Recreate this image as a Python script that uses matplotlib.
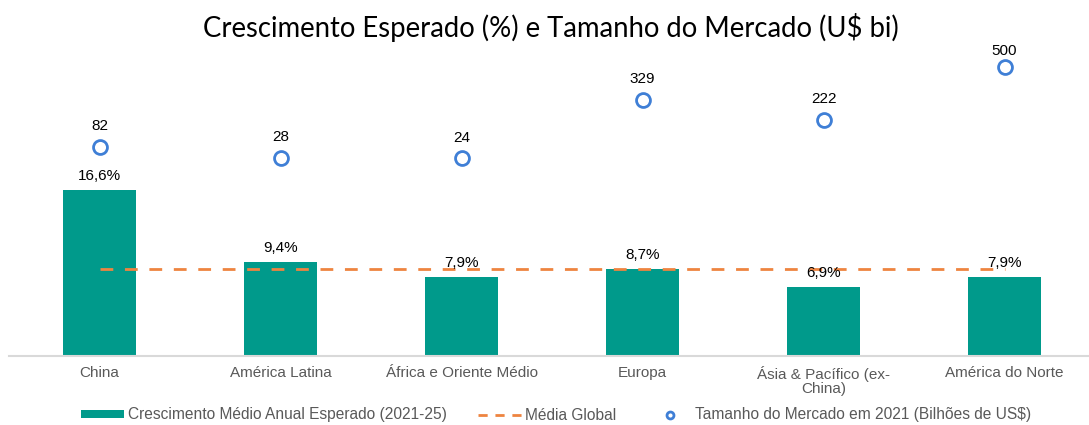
import matplotlib
matplotlib.use("Agg")
import matplotlib.pyplot as plt
from matplotlib.lines import Line2D
from matplotlib.patches import Patch
import numpy as np

categories = ["China", "América Latina", "África e Oriente Médio", "Europa",
              "Ásia & Pacífico (ex-\nChina)", "América do Norte"]
growth = [16.6, 9.4, 7.9, 8.7, 6.9, 7.9]
global_avg = [8.7, 8.7, 8.7, 8.7, 8.7, 8.7]
market_size = [82, 28, 24, 329, 222, 500]

title = "Crescimento Esperado (%) e Tamanho do Mercado (U$ bi)"
leg_bar = "Crescimento Médio Anual Esperado (2021-25)"
leg_line = "Média Global"
leg_marker = "Tamanho do Mercado em 2021 (Bilhões de US$)"

TEAL = "#009A8B"
ORANGE = "#EE8440"
BLUE = "#3F7FD6"
W, H = 1089, 425
FS = 11

plt.rcParams['font.family'] = ['Liberation Sans', 'DejaVu Sans']

fig = plt.figure(figsize=(W / 100, H / 100), dpi=100)
ax = fig.add_axes([9 / W, 69 / H, 1080 / W, 300 / H])
x = np.arange(len(categories))
ax.bar(x, growth, width=0.4, color=TEAL, zorder=2)
ax.plot(x, global_avg, color=ORANGE, lw=2, dashes=(4.6, 4.2), zorder=3)
ax.set_xlim(-0.5, -0.5 + 1080 / 181)
ax.set_ylim(0, 30)
ax.set_yticks([])
for s in ["top", "right", "left"]:
    ax.spines[s].set_visible(False)
ax.spines["bottom"].set_color("#D9D9D9")
ax.spines["bottom"].set_linewidth(1.5)
ax.set_xticks(x)
ax.set_xticklabels(categories, fontsize=FS, color="#595959", linespacing=1.0)
ax.tick_params(axis="x", length=0, pad=7)

for xi, g in zip(x, growth):
    ax.annotate(f"{g:.1f}%".replace(".", ","), (xi, g), xytext=(0, 10),
                textcoords="offset points", ha="center", va="center",
                fontsize=FS, color="#000000")

ax2 = ax.twinx()
ax2.set_ylim(-1000, 555)
ax2.set_yticks([])
for s in ax2.spines.values():
    s.set_visible(False)
ax2.plot(x, market_size, ls="none", marker="o", ms=10, mfc="white",
         mec=BLUE, mew=2, zorder=4)
offsets = [15, 15, 15, 15, 15, 11]
for xi, m, off in zip(x, market_size, offsets):
    ax2.annotate(f"{m}", (xi, m), xytext=(0, off), textcoords="offset points",
                 ha="center", va="center", fontsize=FS, color="#000000",
                 annotation_clip=False)

fig.text(551 / W, 1 - 28 / H, title, ha="center", va="center",
         fontsize=19.8, family=["Lato", "DejaVu Sans"], color="#000000")

handles = [Patch(facecolor=TEAL, edgecolor="none"),
           Line2D([], [], color=ORANGE, lw=2, dashes=(3.3, 2.8)),
           Line2D([], [], ls="none", marker="o", ms=5, mfc="white", mec=BLUE, mew=2)]
leg = fig.legend(handles, [leg_bar, leg_line, leg_marker], loc="center",
                 bbox_to_anchor=(556 / W, 1 - 415 / H), ncol=3, frameon=False,
                 fontsize=11.2, handlelength=2.8, handleheight=0.45, columnspacing=2.0,
                 handletextpad=0.25)
for t in leg.get_texts():
    t.set_color("#595959")

fig.savefig("out.png", dpi=100)
